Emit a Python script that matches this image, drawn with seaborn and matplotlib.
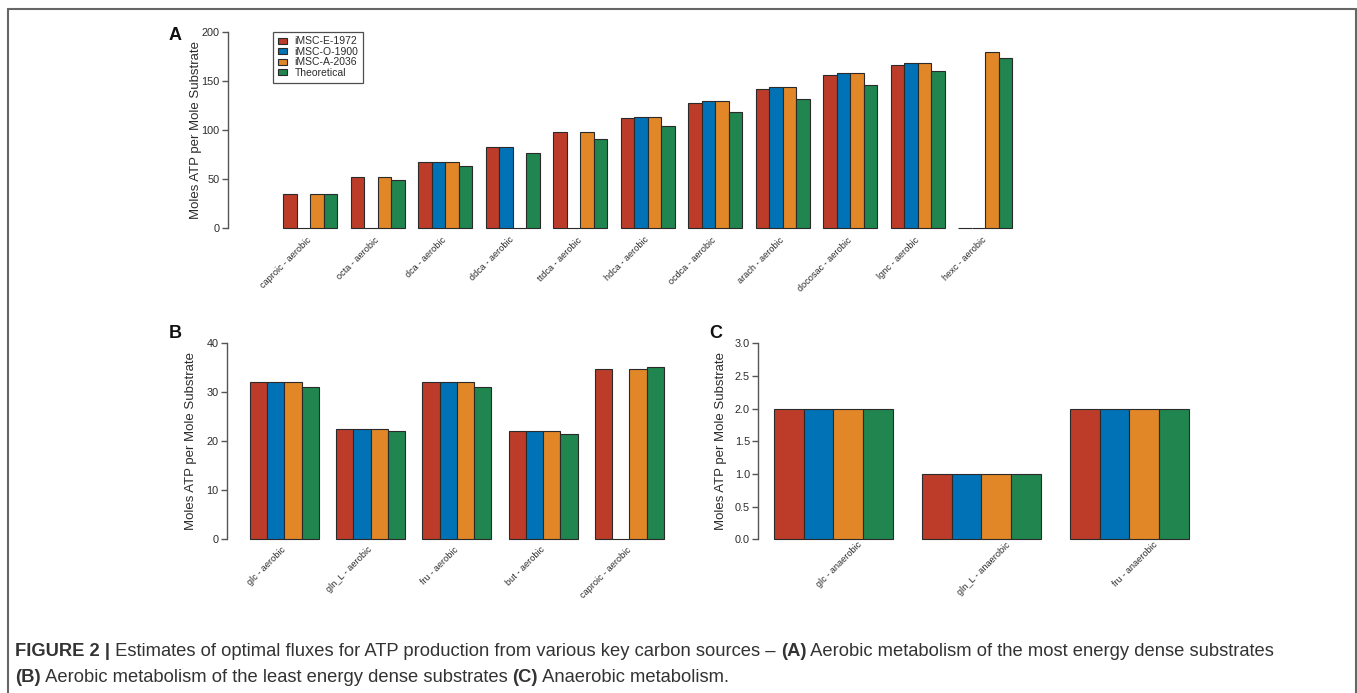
import numpy as np
import pandas as pd
import matplotlib
matplotlib.use("Agg")
import matplotlib.pyplot as plt
import matplotlib.transforms as mtransforms
from matplotlib.lines import Line2D
import seaborn as sns

# ---------------- data ----------------
models = ["iMSC-E-1972", "iMSC-O-1900", "iMSC-A-2036", "Theoretical"]
colors = ["#BC3C29", "#0072B5", "#E18727", "#20854E"]

cats_a = ["caproic - aerobic", "octa - aerobic", "dca - aerobic", "ddca - aerobic",
          "ttdca - aerobic", "hdca - aerobic", "ocdca - aerobic", "arach - aerobic",
          "docosac - aerobic", "lgnc - aerobic", "hexc - aerobic"]
a_e = [34.8, 52.2, 67.5, 82.7, 97.7, 112.6, 127.2, 141.4, 155.6, 166.2, 0]
a_o = [0, 0, 67.5, 82.7, 0, 113.6, 129.5, 143.8, 157.7, 168.5, 0]
a_a = [34.8, 52.2, 67.5, 0, 97.7, 113.6, 129.5, 143.8, 157.7, 168.5, 179.0]
a_t = [35.4, 49.2, 63.7, 77.0, 90.9, 103.8, 118.4, 131.6, 145.5, 159.7, 173.3]

cats_b = ["glc - aerobic", "gln_L - aerobic", "fru - aerobic", "but - aerobic", "caproic - aerobic"]
b_e = [32, 22.5, 32, 22, 34.7]
b_o = [32, 22.5, 32, 22, 0]
b_a = [32, 22.5, 32, 22, 34.7]
b_t = [31.1, 22.0, 31.1, 21.5, 35.2]

cats_c = ["glc - anaerobic", "gln_L - anaerobic", "fru - anaerobic"]
c_e = [2, 1, 2]
c_o = [2, 1, 2]
c_a = [2, 1, 2]
c_t = [2, 1, 2]


def long_df(cats, series):
    rows = []
    for m, vals in zip(models, series):
        for c, v in zip(cats, vals):
            rows.append({"cat": c, "model": m, "value": v})
    return pd.DataFrame(rows)


df_a = long_df(cats_a, [a_e, a_o, a_a, a_t])
df_b = long_df(cats_b, [b_e, b_o, b_a, b_t])
df_c = long_df(cats_c, [c_e, c_o, c_a, c_t])

# ---------------- style ----------------
sns.set_style("white")
plt.rcParams["font.family"] = ["Liberation Sans", "DejaVu Sans"]

W, H = 1357, 693
fig = plt.figure(figsize=(W / 100, H / 100), dpi=100)


def px_axes(left, right, top, bottom):
    return fig.add_axes([left / W, 1 - bottom / H, (right - left) / W, (bottom - top) / H])


# axes placed in pixel coordinates
ax_a = px_axes(228, 1039, 23.8, 236.2)
ax_b = px_axes(226.7, 681.2, 335.4, 547.1)
ax_c = px_axes(758.3, 1210.9, 335.4, 547.1)

dark = "#2b2b2b"
spine_col = "#555555"


def draw(ax, df, cats, ymax, yticks, xlim, fmt, legend=False):
    sns.barplot(data=df, x="cat", y="value", hue="model", order=cats,
                hue_order=models, palette=colors, width=0.8, saturation=1,
                edgecolor="#2a2a2a", linewidth=0.8, ax=ax, legend=legend)
    ax.set_ylim(-0.04 * ymax, 1.04 * ymax)
    ax.set_xlim(*xlim)
    for s in ["top", "right", "bottom"]:
        ax.spines[s].set_visible(False)
    ax.spines["left"].set_bounds(0, ymax)
    ax.spines["left"].set_color(spine_col)
    ax.spines["left"].set_linewidth(1.0)
    ax.set_yticks(yticks)
    ax.set_yticklabels([fmt.format(t) for t in yticks], fontsize=7.8, color=dark)
    ax.tick_params(axis="y", length=4, width=1.0, color=spine_col, pad=2, left=True)
    ax.tick_params(axis="x", length=0, pad=1)
    ax.set_xlabel("")
    ax.set_ylabel("Moles ATP per Mole Substrate", fontsize=9.5, color=dark)
    ax.set_xticks(range(len(cats)))
    ax.set_xticklabels(cats, rotation=45, ha="right", va="center",
                       rotation_mode="anchor", fontsize=6.6, color=dark)
    ax.grid(False)


draw(ax_a, df_a, cats_a, 200, [0, 50, 100, 150, 200], (-1.215, 10.8), "{:.0f}", legend=True)
draw(ax_b, df_b, cats_b, 40, [0, 10, 20, 30, 40], (-0.67, 4.6), "{:.0f}")
draw(ax_c, df_c, cats_c, 3.0, [0, 0.5, 1.0, 1.5, 2.0, 2.5, 3.0], (-0.508, 2.55), "{:.1f}")

ax_a.yaxis.set_label_coords(-0.032, 0.5)
ax_b.yaxis.set_label_coords(-0.066, 0.5)
ax_c.yaxis.set_label_coords(-0.070, 0.5)

# shift C labels (they sit to the right of group centres in the reference)
for lab in ax_c.get_xticklabels():
    lab.set_transform(lab.get_transform() +
                      mtransforms.ScaledTranslation(0.27, 0.05, fig.dpi_scale_trans))
for lab in ax_a.get_xticklabels():
    lab.set_transform(lab.get_transform() +
                      mtransforms.ScaledTranslation(0.0, -0.01, fig.dpi_scale_trans))

# legend
handles, labels = ax_a.get_legend_handles_labels()
if ax_a.get_legend() is not None:
    ax_a.get_legend().remove()
leg = ax_a.legend(handles, labels, loc="upper left", bbox_to_anchor=(0.0555, 0.963),
                  borderaxespad=0, frameon=True, fancybox=False, fontsize=7.5,
                  handlelength=0.9, handleheight=0.55, handletextpad=0.7,
                  labelspacing=0.05, borderpad=0.45)
leg.get_frame().set_edgecolor("#222222")
leg.get_frame().set_linewidth(0.9)
for t in leg.get_texts():
    t.set_color(dark)

# panel letters
for letter, (x, y) in {"A": (175, 35), "B": (175, 333), "C": (716, 333)}.items():
    fig.text(x / W, 1 - y / H, letter, fontsize=13, fontweight="bold",
             ha="center", va="center", color="#111111")

# figure border (top, left, right)
for xs, ys in [((8, 1356), (9, 9)), ((8, 8), (9, 700)), ((1356, 1356), (9, 700))]:
    fig.add_artist(Line2D([x / W for x in xs], [1 - y / H for y in ys],
                          color="#666666", linewidth=1.5, transform=fig.transFigure))

# caption with mixed bold/regular runs
cap_font = ["Liberation Sans", "DejaVu Sans"]
cap_size = 13.2
cap_col = "#333333"
renderer = fig.canvas.get_renderer()


def runs(x0, y, parts):
    x = x0
    for txt, bold in parts:
        t = fig.text(x / W, 1 - y / H, txt, fontsize=cap_size, family=cap_font,
                     fontweight="bold" if bold else "normal", color=cap_col,
                     ha="left", va="center")
        bb = t.get_window_extent(renderer=renderer)
        x += bb.width


runs(15, 651.5, [("FIGURE 2 |", True),
                 (" Estimates of optimal fluxes for ATP production from various key carbon sources \u2013 ", False),
                 ("(A)", True),
                 (" Aerobic metabolism of the most energy dense substrates", False)])
runs(15, 678, [("(B)", True),
               (" Aerobic metabolism of the least energy dense substrates ", False),
               ("(C)", True),
               (" Anaerobic metabolism.", False)])

fig.savefig("out.png", dpi=100)
